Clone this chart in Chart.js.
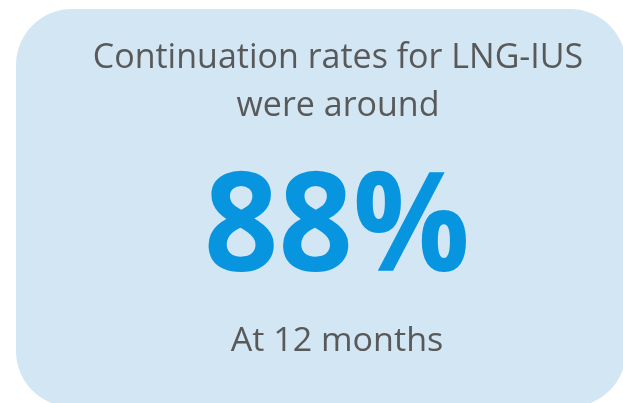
<!DOCTYPE html>
<html>
<head>
<meta charset="utf-8">
<script src="https://cdn.jsdelivr.net/npm/chart.js@4.4.1/dist/chart.umd.min.js"></script>
<style>
  html, body { margin: 0; padding: 0; background: #ffffff; }
  #wrap { width: 623px; height: 403px; }
</style>
</head>
<body>
<div id="wrap"><canvas id="myChart" width="623" height="403"></canvas></div>
<script>
// 表示するデータ
var headlineLines = ['Continuation rates for LNG-IUS', 'were around'];
var rateValues = [88];
var rateUnit = '%';
var periodLabels = ['At 12 months'];

var family = '"Open Sans", sans-serif';

// 幅と高さを元の画像に合わせて文字を描く
function fitText(ctx, text, weight, refText, targetWidth, targetHeight) {
    ctx.font = weight + ' 100px ' + family;
    var w = ctx.measureText(refText).width;
    var size = 100 * targetWidth / w;
    ctx.font = weight + ' ' + size.toFixed(1) + 'px ' + family;
    var h = ctx.measureText('H').actualBoundingBoxAscent;
    return targetHeight / h;
}

function drawText(ctx, text, x, y, sy) {
    ctx.save();
    ctx.translate(x, y);
    ctx.scale(1, sy);
    ctx.fillText(text, 0, 0);
    ctx.restore();
}

var cardPlugin = {
    id: 'card',
    beforeDraw: function(chart) {
        var ctx = chart.ctx;
        ctx.save();
        ctx.fillStyle = '#d2e6f4';
        ctx.beginPath();
        ctx.roundRect(16, 9, 610, 398, 56);
        ctx.fill();

        ctx.textAlign = 'center';
        ctx.textBaseline = 'alphabetic';

        ctx.fillStyle = '#595959';
        var sy = fitText(ctx, headlineLines[0], 'normal', headlineLines[0], 490, 26);
        drawText(ctx, headlineLines[0], 338, 68, sy);
        drawText(ctx, headlineLines[1], 338, 116, sy);

        var big = rateValues[0] + rateUnit;
        ctx.fillStyle = '#0795df';
        sy = fitText(ctx, big, 'bold', big, 266, 99);
        drawText(ctx, big, 337, 271, sy);

        ctx.fillStyle = '#595959';
        sy = fitText(ctx, periodLabels[0], 'normal', periodLabels[0], 213, 24);
        drawText(ctx, periodLabels[0], 337, 351, sy);
        ctx.restore();
    }
};

var ctx = document.getElementById('myChart');
var myChart = new Chart(ctx, {
    type: 'doughnut',
    data: {
        labels: periodLabels,
        datasets: [{
            data: rateValues,
            backgroundColor: 'rgba(0,0,0,0)',
            borderWidth: 0
        }]
    },
    options: {
        responsive: false,
        animation: false,
        events: [],
        plugins: {
            legend: { display: false },
            tooltip: { enabled: false }
        }
    },
    plugins: [cardPlugin]
});
</script>
</body>
</html>
